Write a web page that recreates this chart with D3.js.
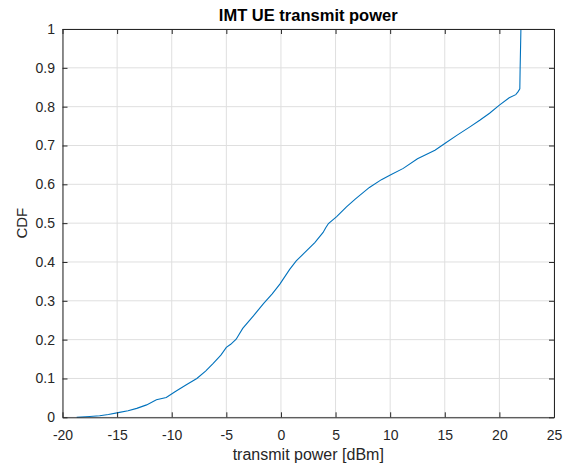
<!DOCTYPE html>
<html>
<head>
<meta charset="utf-8">
<script src="https://cdn.jsdelivr.net/npm/d3@7"></script>
<style>
  body { margin: 0; background: #fff; }
  svg { display: block; font-family: "Liberation Sans", Arial, sans-serif; }
</style>
</head>
<body>
<svg id="chart" width="563" height="466"></svg>
<script>
const title = "IMT UE transmit power";
const xLabel = "transmit power [dBm]";
const yLabel = "CDF";
const xTicks = [-20, -15, -10, -5, 0, 5, 10, 15, 20, 25];
const yTicks = [0, 0.1, 0.2, 0.3, 0.4, 0.5, 0.6, 0.7, 0.8, 0.9, 1];
const powerDbm = [-18.7, -17.5, -16.6, -15.8, -14.9, -14.0, -13.2, -12.3, -11.4, -10.5, -9.7, -8.7, -7.7, -6.9, -6.2, -5.5, -5.0, -4.6, -4.1, -3.5, -2.5, -1.6, -0.8, -0.1, 0.8, 1.4, 2.1, 3.1, 3.86, 4.1, 4.35, 5.1, 6.0, 6.8, 8.1, 9.2, 10.1, 11.2, 12.5, 14.1, 15.0, 16.1, 17.3, 18.2, 19.1, 20.0, 20.9, 21.5, 21.7, 21.87, 21.9, 21.95, 21.97];
const cdf      = [0.0, 0.002, 0.004, 0.007, 0.012, 0.017, 0.023, 0.032, 0.045, 0.051, 0.066, 0.083, 0.10, 0.119, 0.139, 0.160, 0.180, 0.188, 0.201, 0.229, 0.262, 0.293, 0.318, 0.343, 0.381, 0.403, 0.422, 0.450, 0.476, 0.488, 0.499, 0.517, 0.542, 0.562, 0.592, 0.612, 0.625, 0.641, 0.666, 0.688, 0.705, 0.726, 0.748, 0.765, 0.783, 0.804, 0.823, 0.831, 0.838, 0.846, 0.90, 0.97, 1.0];

const svg = d3.select("#chart");
const mLeft = 62.5, mRight = 554, mTop = 29, mBottom = 417.3;
const x = d3.scaleLinear().domain([-20, 25]).range([mLeft, mRight]);
const y = d3.scaleLinear().domain([0, 1]).range([mBottom, mTop]);
const axisColor = "#262626";

// grid
const grid = svg.append("g");
grid.selectAll("line.vx").data(xTicks).enter().append("line")
  .attr("x1", d => x(d)).attr("x2", d => x(d)).attr("y1", mTop).attr("y2", mBottom)
  .attr("stroke", "#dfdfdf").attr("stroke-width", 1);
grid.selectAll("line.hy").data(yTicks).enter().append("line")
  .attr("y1", d => y(d)).attr("y2", d => y(d)).attr("x1", mLeft).attr("x2", mRight)
  .attr("stroke", "#dfdfdf").attr("stroke-width", 1);

// line
const line = d3.line().x((d, i) => x(powerDbm[i])).y(d => y(d));
svg.append("path").datum(cdf).attr("d", line)
  .attr("fill", "none").attr("stroke", "#0072BD").attr("stroke-width", 1.1);

// axes
function styleAxis(g) {
  g.selectAll(".domain").attr("stroke", axisColor);
  g.selectAll(".tick line").attr("stroke", axisColor);
  g.selectAll(".tick text").attr("fill", axisColor).style("font-size", "14px")
    .style("font-family", "'Liberation Sans', Arial, sans-serif");
}
const xAxis = svg.append("g").attr("transform", `translate(0,${mBottom})`)
  .call(d3.axisBottom(x).tickValues(xTicks).tickSizeInner(-5).tickSizeOuter(0).tickPadding(12.5).tickFormat(d => String(d)));
styleAxis(xAxis);
const xTop = svg.append("g").attr("transform", `translate(0,${mTop})`)
  .call(d3.axisTop(x).tickValues(xTicks).tickSizeInner(-5).tickSizeOuter(0).tickFormat(""));
styleAxis(xTop);
const yAxis = svg.append("g").attr("transform", `translate(${mLeft},0)`)
  .call(d3.axisLeft(y).tickValues(yTicks).tickSizeInner(-5).tickSizeOuter(0).tickPadding(7.5).tickFormat(d => d === 0 || d === 1 ? String(d) : d3.format(".1f")(d)));
styleAxis(yAxis);
const yRight = svg.append("g").attr("transform", `translate(${mRight},0)`)
  .call(d3.axisRight(y).tickValues(yTicks).tickSizeInner(-5).tickSizeOuter(0).tickFormat(""));
styleAxis(yRight);

// labels
svg.append("text").attr("x", (mLeft + mRight) / 2).attr("y", 21)
  .attr("text-anchor", "middle").attr("font-weight", "bold").attr("font-size", "16.5px")
  .attr("fill", "#000").text(title);
svg.append("text").attr("x", (mLeft + mRight) / 2).attr("y", 460)
  .attr("text-anchor", "middle").attr("font-size", "16px").attr("fill", axisColor).text(xLabel);
svg.append("text").attr("transform", `translate(27,${(mTop + mBottom) / 2}) rotate(-90)`)
  .attr("text-anchor", "middle").attr("font-size", "15px").attr("fill", axisColor).text(yLabel);
</script>
</body>
</html>
